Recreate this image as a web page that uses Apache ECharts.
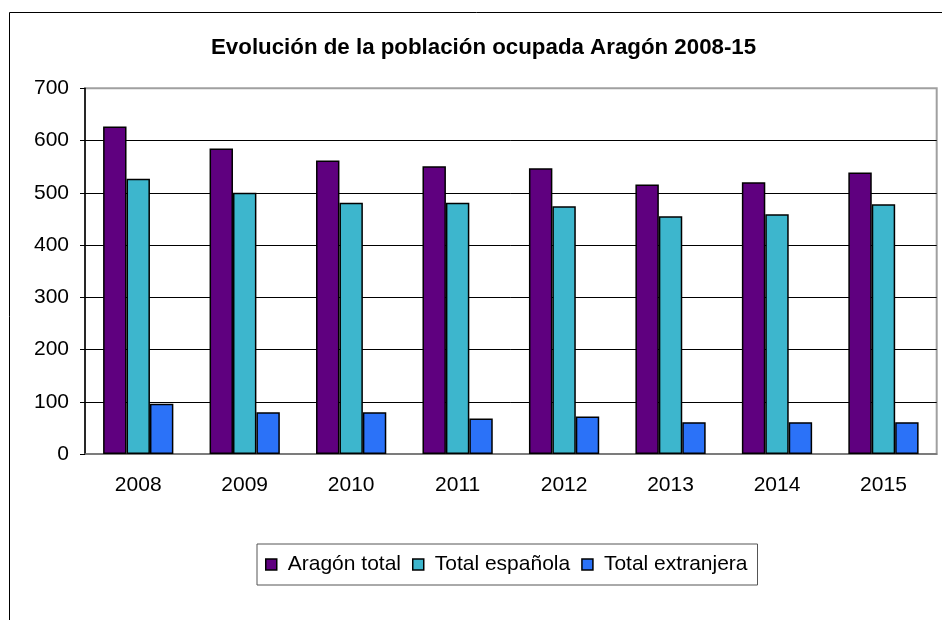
<!DOCTYPE html>
<html>
<head>
<meta charset="utf-8">
<script src="https://cdn.jsdelivr.net/npm/echarts@6/dist/echarts.min.js"></script>
<style>
  html, body { margin: 0; padding: 0; background: #fff; }
  #chart { width: 942px; height: 620px; }
</style>
</head>
<body>
<div id="chart"></div>
<script>
// datos (miles de personas)
const years = ['2008', '2009', '2010', '2011', '2012', '2013', '2014', '2015'];
const aragonTotal = [627, 585, 562, 551, 547, 516, 520, 539];
const totalEspanola = [527, 500, 481, 481, 474, 455, 459, 478];
const totalExtranjera = [96, 80, 80, 68, 72, 61, 61, 61];
const yTicks = [0, 100, 200, 300, 400, 500, 600, 700];

const font = 'Liberation Sans, Arial, sans-serif';
const chart = echarts.init(document.getElementById('chart'));

function barSeries(name, data, color) {
  return {
    name, type: 'bar', data,
    barGap: '0%', barCategoryGap: '34%',
    itemStyle: { color, borderColor: '#000', borderWidth: 1.5 }
  };
}

chart.setOption({
  animation: false,
  backgroundColor: '#fff',
  textStyle: { fontFamily: font },
  title: {
    text: 'Evolución de la población ocupada Aragón 2008-15',
    left: 211, top: 37, padding: 0,
    textStyle: { fontSize: 22.3, fontWeight: 'bold', color: '#000', fontFamily: font }
  },
  graphic: [{
    type: 'rect', silent: true, z: -1,
    shape: { x: 9.5, y: 12.5, width: 1000, height: 1000 },
    style: { fill: 'none', stroke: '#000', lineWidth: 1 }
  }],
  legend: {
    left: 257, top: 544,
    padding: [10, 10, 10, 8],
    itemGap: 11, itemWidth: 11, itemHeight: 11,
    icon: 'rect',
    borderColor: '#555', borderWidth: 1,
    itemStyle: { borderColor: '#000', borderWidth: 1.5 },
    textStyle: { fontSize: 21, color: '#000', fontFamily: font, padding: [0, 0, 0, 6] },
    data: ['Aragón total', 'Total española', 'Total extranjera']
  },
  grid: {
    left: 85, right: 5.3, top: 88.3, bottom: 166,
    show: true, borderColor: '#a0a0a0', borderWidth: 2
  },
  xAxis: {
    type: 'category', data: years,
    axisLine: { lineStyle: { color: '#707070', width: 1.5 } },
    axisTick: { length: 5, lineStyle: { color: '#707070' } },
    axisLabel: { fontSize: 21, color: '#000', margin: 21 }
  },
  yAxis: {
    type: 'value', min: yTicks[0], max: yTicks[yTicks.length - 1], interval: 100,
    axisLine: { show: true, lineStyle: { color: '#000', width: 1.5 } },
    axisTick: { show: true, length: 5, lineStyle: { color: '#000' } },
    axisLabel: { fontSize: 21, color: '#000', margin: 16 },
    splitLine: { show: true, showMinLine: false, showMaxLine: false, lineStyle: { color: '#000', width: 1 } }
  },
  series: [
    barSeries('Aragón total', aragonTotal, '#5F007F'),
    barSeries('Total española', totalEspanola, '#3DB6CD'),
    barSeries('Total extranjera', totalExtranjera, '#2B72F8')
  ]
});
</script>
</body>
</html>
